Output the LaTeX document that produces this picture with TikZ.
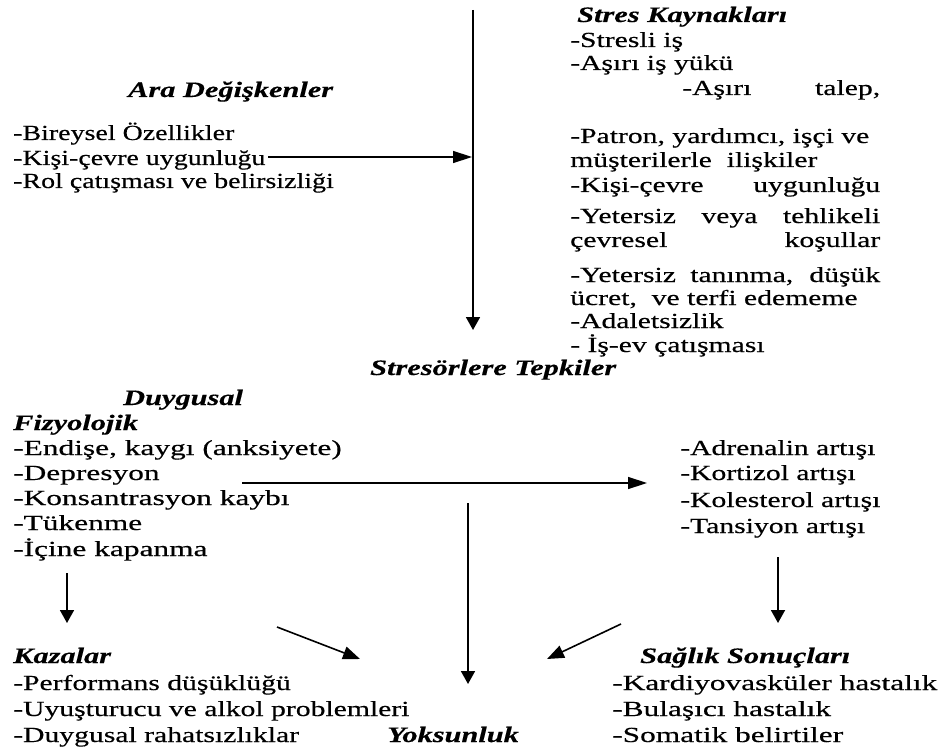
\documentclass[tikz,border=0pt]{standalone}
\usepackage{fontspec}
\setmainfont{Liberation Serif}[FakeStretch=1.38, FakeBold=0.4]
\newfontfamily\narrowserif{Liberation Serif}[FakeStretch=1.3, FakeBold=0.4]
\newfontfamily\wideserif{Liberation Serif}[FakeStretch=1.46, FakeBold=0.4]
\usetikzlibrary{arrows.meta}
\tikzset{
  txt/.style={inner sep=0pt, anchor=base west, font=\fontsize{21.5}{25}\selectfont},
  txtn/.style={txt, font=\fontsize{21.5}{25}\narrowserif},
  txtw/.style={txt, font=\fontsize{21.5}{25}\wideserif},
  hd/.style={inner sep=0pt, anchor=base west, font=\fontsize{22}{25}\selectfont\bfseries\itshape},
  arrV/.style={line width=1.8pt, -{Triangle[length=13pt,width=14pt]}},
  arrH/.style={line width=1.4pt, -{Triangle[length=19pt,width=12pt]}},
  arrD/.style={line width=1.6pt, -{Triangle[length=17pt,width=13pt]}},
}
\begin{document}
\begin{tikzpicture}[x=1pt,y=-1pt]
\useasboundingbox (0,0) rectangle (942,754);
\fill[white] (0,0) rectangle (942,754);
% ---- top left
\node[hd]   (ara) at (128,97) {Ara Değişkenler};
\node[txtn] (al1) at (13,140) {-Bireysel Özellikler};
\node[txtn] (al2) at (13,165) {-Kişi-çevre uygunluğu};
\node[txtn] (al3) at (13,188) {-Rol çatışması ve belirsizliği};
% ---- top right
\node[hd]  (sk)  at (577,22) {Stres Kaynakları};
\node[txt] (s1)  at (570,47) {-Stresli iş};
\node[txt] (s2)  at (570,70) {-Aşırı iş yükü};
\node[txt] (s3)  at (682,95) {\makebox[198pt][s]{-Aşırı talep,}};
\node[txt] (s4)  at (570,143) {-Patron, yardımcı, işçi ve};
\node[txt] (s5)  at (570,167) {müşterilerle\ \ ilişkiler};
\node[txt] (s6)  at (570,192) {\makebox[310pt][s]{-Kişi-çevre uygunluğu}};
\node[txt] (s7)  at (570,223) {\makebox[310pt][s]{-Yetersiz veya tehlikeli}};
\node[txt] (s8)  at (570,247) {\makebox[310pt][s]{çevresel koşullar}};
\node[txt] (s9)  at (570,282) {\makebox[310pt][s]{-Yetersiz tanınma, düşük}};
\node[txt] (s10) at (570,305) {ücret,\ \ ve terfi edememe};
\node[txt] (s11) at (570,328) {-Adaletsizlik};
\node[txt] (s12) at (570,352) {- İş-ev çatışması};
% ---- middle
\node[hd]   (st)  at (370,375) {Stresörlere Tepkiler};
\node[hd]   (dy)  at (123,405) {Duygusal};
\node[hd]   (fz)  at (13,430) {Fizyolojik};
\node[txtw] (d1)  at (13,455) {-Endişe, kaygı (anksiyete)};
\node[txtw] (d2)  at (13,480) {-Depresyon};
\node[txtw] (d3)  at (13,505) {-Konsantrasyon kaybı};
\node[txtw] (d4)  at (13,530) {-Tükenme};
\node[txtw] (d5)  at (13,556) {-İçine kapanma};
\node[txt]  (f1)  at (680,455) {-Adrenalin artışı};
\node[txt]  (f2)  at (680,480) {-Kortizol artışı};
\node[txt]  (f3)  at (680,507) {-Kolesterol artışı};
\node[txt]  (f4)  at (680,533) {-Tansiyon artışı};
% ---- bottom
\node[hd]  (kz)  at (13,663) {Kazalar};
\node[txt] (k1)  at (13,690) {-Performans düşüklüğü};
\node[txt] (k2)  at (13,716) {-Uyuşturucu ve alkol problemleri};
\node[txt] (k3)  at (13,742) {-Duygusal rahatsızlıklar};
\node[hd]  (yk)  at (387,742) {Yoksunluk};
\node[hd]  (ss)  at (640,663) {Sağlık Sonuçları};
\node[txtw] (h1) at (612,690) {-Kardiyovasküler hastalık};
\node[txtw] (h2) at (612,716) {-Bulaşıcı hastalık};
\node[txtw] (h3) at (612,742) {-Somatik belirtiler};
% ---- arrow end points
\coordinate (t0) at (473,10);   \coordinate (t1) at (473,330);
\coordinate (a0) at (268,157);  \coordinate (a1) at (472,157);
\coordinate (h0) at (242,483);  \coordinate (h1e) at (647,483);
\coordinate (c0) at (468,503);  \coordinate (c1) at (468,684);
\coordinate (l0) at (67,573);   \coordinate (l1) at (67,623);
\coordinate (r0) at (778,557);  \coordinate (r1) at (778,623);
\coordinate (dl0) at (277,627); \coordinate (dl1) at (360,659);
\coordinate (dr0) at (621,624); \coordinate (dr1) at (547,659);
\draw[arrV] (t0) -- (t1);
\draw[arrH] (a0) -- (a1);
\draw[arrH] (h0) -- (h1e);
\draw[arrV] (c0) -- (c1);
\draw[arrV] (l0) -- (l1);
\draw[arrV] (r0) -- (r1);
\draw[arrD] (dl0) -- (dl1);
\draw[arrD] (dr0) -- (dr1);
\end{tikzpicture}
\end{document}
